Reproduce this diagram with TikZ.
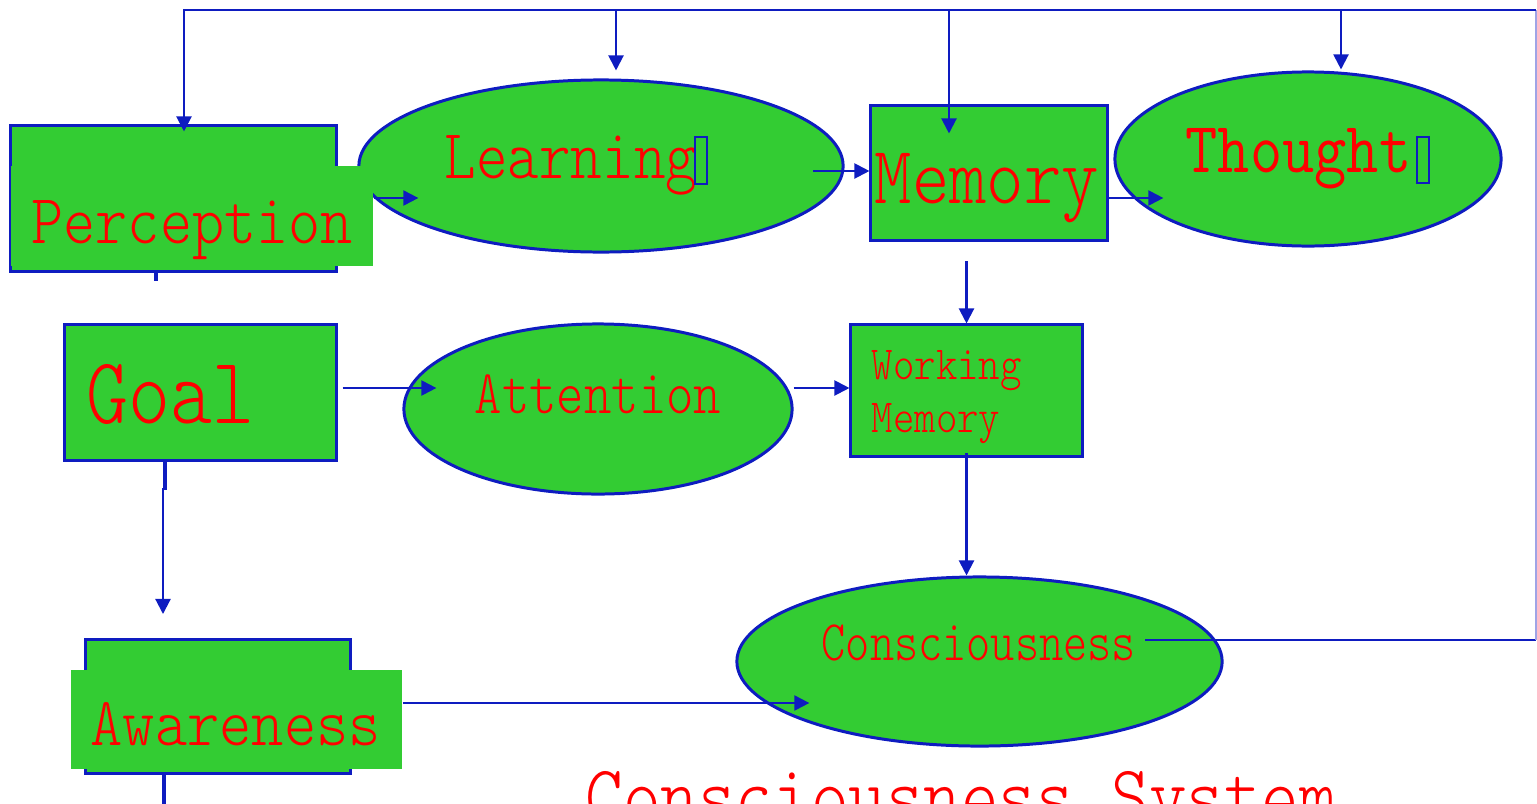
\documentclass[tikz,border=0pt]{standalone}
\usetikzlibrary{shapes.geometric,arrows.meta,calc}

\definecolor{boxgreen}{RGB}{51,204,51}
\definecolor{edgeblue}{RGB}{14,28,192}
\definecolor{labelred}{RGB}{255,0,0}

\tikzset{
  shapebox/.style={rectangle, draw=edgeblue, fill=boxgreen, line width=0.85pt, inner sep=0pt},
  shapeoval/.style={ellipse, draw=edgeblue, fill=boxgreen, line width=0.85pt, inner sep=0pt},
  textpad/.style={rectangle, fill=boxgreen, inner sep=0pt},
  conn/.style={draw=edgeblue, line width=0.6pt},
  arr/.style={conn, -{Triangle[length=4.3pt,width=4.3pt]}},
  faint/.style={draw=edgeblue!40, line width=0.45pt},
  stub/.style={draw=edgeblue, line width=1.1pt},
  lbl/.style={text=labelred, inner sep=0pt, anchor=base west,
              font=\fontseries{l}\ttfamily\fontsize{#1}{#1}\selectfont},
  lblheavy/.style={text=labelred, inner sep=0pt, anchor=base west,
              font=\ttfamily\fontsize{#1}{#1}\selectfont},
  tofu/.style={draw=edgeblue, line width=0.5pt},
}

\begin{document}
\begin{tikzpicture}[x=0.01cm, y=-0.01cm]
\useasboundingbox (0,0) rectangle (1537,803);

% ---- shapes ----
\node[shapebox, minimum width=3.25cm, minimum height=1.45cm] (perc) at (173.5,198.5) {};
\node[shapeoval, minimum width=4.84cm, minimum height=1.72cm] (learn) at (601,166) {};
\node[textpad, minimum width=3.62cm, minimum height=1.00cm] (percfill) at (192,216) {};
\node[shapebox, minimum width=2.36cm, minimum height=1.34cm] (mem) at (989,173) {};
\node[shapeoval, minimum width=3.86cm, minimum height=1.74cm] (thought) at (1308,159) {};
\node[shapebox, minimum width=2.71cm, minimum height=1.35cm] (goal) at (200.5,392.5) {};
\node[shapeoval, minimum width=3.88cm, minimum height=1.70cm] (attn) at (598,409) {};
\node[shapebox, minimum width=2.31cm, minimum height=1.31cm] (wm) at (966.5,390.5) {};
\node[shapeoval, minimum width=4.85cm, minimum height=1.69cm] (cons) at (979.5,661.5) {};
\node[shapebox, minimum width=2.64cm, minimum height=1.33cm] (aware) at (218,706.5) {};
\node[textpad, minimum width=3.31cm, minimum height=0.99cm] (awfill) at (236.5,719.5) {};

% ---- labels ----
\node[lbl=20] (tperc) at (31,243) {\scalebox{0.869}[1]{Perception}};
\node[lbl=20] (tlearn) at (444,178) {\scalebox{0.855}[1]{Learning}};
\draw[tofu] (695,137) rectangle (707,184);
\node[lbl=23.3] (tmem) at (874,203) {\scalebox{0.869}[1]{Memory}};
\node[lblheavy=20.5] (tthought) at (1185,172) {\scalebox{0.868}[1]{Thought}};
\draw[tofu] (1417,137) rectangle (1429,183);
\node[lbl=27] (tgoal) at (86,423) {\scalebox{0.842}[1]{Goal}};
\node[lbl=17.7] (tattn) at (474,413) {\scalebox{0.838}[1]{Attention}};
\node[lbl=13.5] (twm1) at (871,379) {\scalebox{0.86}[1]{Working}};
\node[lbl=13.5] (twm2) at (871,432) {\scalebox{0.86}[1]{Memory}};
\node[lbl=16.3] (tcons) at (821,660) {\scalebox{0.803}[1]{Consciousness}};
\node[lbl=19.6] (taware) at (90,745) {\scalebox{0.891}[1]{Awareness}};
\node[lbl=23.8] (title) at (585,823) {\scalebox{0.855}[1]{Consciousness System}};

% ---- free ends of connectors ----
\coordinate (l2m) at (813,171);
\coordinate (m2wm) at (966.5,261);
\coordinate (g2aw0) at (163,488);
\coordinate (g2aw1) at (163,614);
\coordinate (consout) at (1145,640);
\coordinate (rb) at (1536,640);
\coordinate (rt) at (1536,10);
\coordinate (tipP) at ([shift={(10.5,7)}]perc.north);
\coordinate (tipL) at ([shift={(15,-8)}]learn.north);
\coordinate (tipM) at ([shift={(-40,29)}]mem.north);
\coordinate (tipT) at ([shift={(33,-1)}]thought.north);

% ---- connectors ----
\draw[arr] ([shift={(0,-18)}]percfill.east) -- ([shift={(61,32)}]learn.west);
\draw[arr] (l2m) -- (l2m -| mem.west);
\draw[arr] ([shift={(0,25)}]mem.east) -- ([shift={(50,39)}]thought.west);
\draw[arr] (m2wm) -- (wm.north);
\draw[arr] ([shift={(5,-4.5)}]goal.east) -- ([shift={(34,-21)}]attn.west);
\draw[arr] ([shift={(0,-21)}]attn.east) -- ([shift={(0,-2.5)}]wm.west);
\draw[arr] ([shift={(0,-5)}]wm.south) -- (wm.south |- cons.north);
\draw[stub] ([shift={(-35.5,0)}]goal.south) -- ([shift={(-35.5,28)}]goal.south);
\draw[arr] (g2aw0) -- (g2aw1);
\draw[arr] ([shift={(0,-16.5)}]awfill.east) -- ([shift={(74,41.5)}]cons.west);
\draw[stub] ([shift={(-17.5,0)}]perc.south) -- ([shift={(-17.5,8)}]perc.south);
\draw[stub] ([shift={(-54,0)}]aware.south) -- ([shift={(-54,40)}]aware.south);

% feedback loop from Consciousness back to the top row
\draw[conn] (consout) -- (rb);
\draw[faint] (rb) -- (rt);
\draw[arr] (rt) -- (tipP |- rt) -- (tipP);
\draw[arr] (tipL |- rt) -- (tipL);
\draw[arr] (tipM |- rt) -- (tipM);
\draw[arr] (tipT |- rt) -- (tipT);
\end{tikzpicture}
\end{document}
